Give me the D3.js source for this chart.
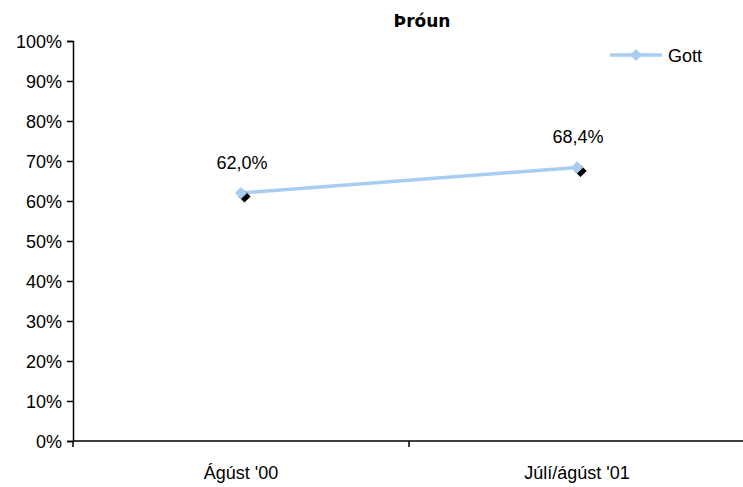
<!DOCTYPE html>
<html>
<head>
<meta charset="utf-8">
<script src="https://cdn.jsdelivr.net/npm/d3@7"></script>
<style>
  body { margin: 0; background: #fff; }
  svg { display: block; }
  .lbl { font-family: "Liberation Sans", Arial, sans-serif; font-size: 18px; fill: #000; }
</style>
</head>
<body>
<svg id="chart" width="743" height="487"></svg>
<script>
const categories = ["Ágúst '00", "Júlí/ágúst '01"]
const gott = [0.62, 0.684]
const yTicks = [0, 0.1, 0.2, 0.3, 0.4, 0.5, 0.6, 0.7, 0.8, 0.9, 1]
const seriesName = 'Gott'
const title = 'Þróun'

const width = 743
const height = 487
const margin = { top: 41, right: -2, bottom: 46, left: 73 }
const lineColor = '#a9cdf0'

const svg = d3.select('#chart')

const xScale = d3.scaleBand()
  .domain(categories)
  .range([margin.left, width - margin.right])

const yScale = d3.scaleLinear()
  .domain([0, 1])
  .range([height - margin.bottom, margin.top])

const fmt = d => d3.format('.1f')(d * 100).replace('.', ',') + '%'

// y axis
svg.append('g')
  .attr('transform', `translate(${margin.left}, 0)`)
  .call(d3.axisLeft(yScale).tickValues(yTicks).tickFormat(d => Math.round(d * 100) + '%').tickSizeOuter(0).tickSize(6).tickPadding(5))
  .call(g => g.selectAll('path, line').attr('stroke', '#000').attr('stroke-width', 1.5))
  .call(g => g.selectAll('text').attr('class', 'lbl').attr('dy', '0.36em'))

// x axis with ticks at band boundaries
const xAxisG = svg.append('g')
  .attr('transform', `translate(0, ${height - margin.bottom})`)
xAxisG.append('line')
  .attr('x1', margin.left).attr('x2', width)
  .attr('stroke', '#000').attr('stroke-width', 1.5)
const bounds = categories.map(c => xScale(c)).concat([xScale(categories[categories.length - 1]) + xScale.bandwidth()])
xAxisG.selectAll('.xt')
  .data(bounds)
  .enter().append('line')
    .attr('x1', d => d).attr('x2', d => d)
    .attr('y1', 0).attr('y2', 6)
    .attr('stroke', '#000').attr('stroke-width', 1.5)
xAxisG.selectAll('.xl')
  .data(categories)
  .enter().append('text')
    .attr('class', 'lbl')
    .attr('x', d => xScale(d) + xScale.bandwidth() / 2)
    .attr('y', 38)
    .attr('text-anchor', 'middle')
    .text(d => d)

// title
svg.append('text')
  .attr('x', 422)
  .attr('y', 27)
  .attr('text-anchor', 'middle')
  .style('font-family', '"DejaVu Sans", sans-serif')
  .style('font-weight', 'bold')
  .style('font-size', '17px')
  .text(title)

const cx = (d, i) => xScale(categories[i]) + xScale.bandwidth() / 2

// line
const line = d3.line()
  .x((d, i) => cx(d, i))
  .y(d => yScale(d))

svg.append('path')
  .datum(gott)
  .attr('d', line)
  .attr('fill', 'none')
  .attr('stroke', lineColor)
  .attr('stroke-width', 3.5)

const diamond = d3.symbol().type(d3.symbolDiamond2).size(95)

// marker shadows
svg.selectAll('.shadow')
  .data(gott)
  .enter().append('path')
    .attr('d', diamond)
    .attr('transform', (d, i) => `translate(${cx(d, i) + 3.5}, ${yScale(d) + 3.5})`)
    .attr('fill', '#000')

svg.selectAll('.marker')
  .data(gott)
  .enter().append('path')
    .attr('d', diamond)
    .attr('transform', (d, i) => `translate(${cx(d, i)}, ${yScale(d)})`)
    .attr('fill', lineColor)

// data labels
svg.selectAll('.dl')
  .data(gott)
  .enter().append('text')
    .attr('class', 'lbl')
    .attr('x', (d, i) => cx(d, i) + 1)
    .attr('y', d => yScale(d) - 24)
    .attr('text-anchor', 'middle')
    .text(fmt)

// legend
const legend = svg.append('g').attr('transform', 'translate(610, 55)')
legend.append('line')
  .attr('x1', 0).attr('x2', 52)
  .attr('stroke', lineColor).attr('stroke-width', 3.5)
legend.append('path')
  .attr('d', diamond)
  .attr('transform', 'translate(26, 0)')
  .attr('fill', lineColor)
legend.append('text')
  .attr('class', 'lbl')
  .attr('x', 58)
  .attr('y', 7)
  .text(seriesName)
</script>
</body>
</html>
